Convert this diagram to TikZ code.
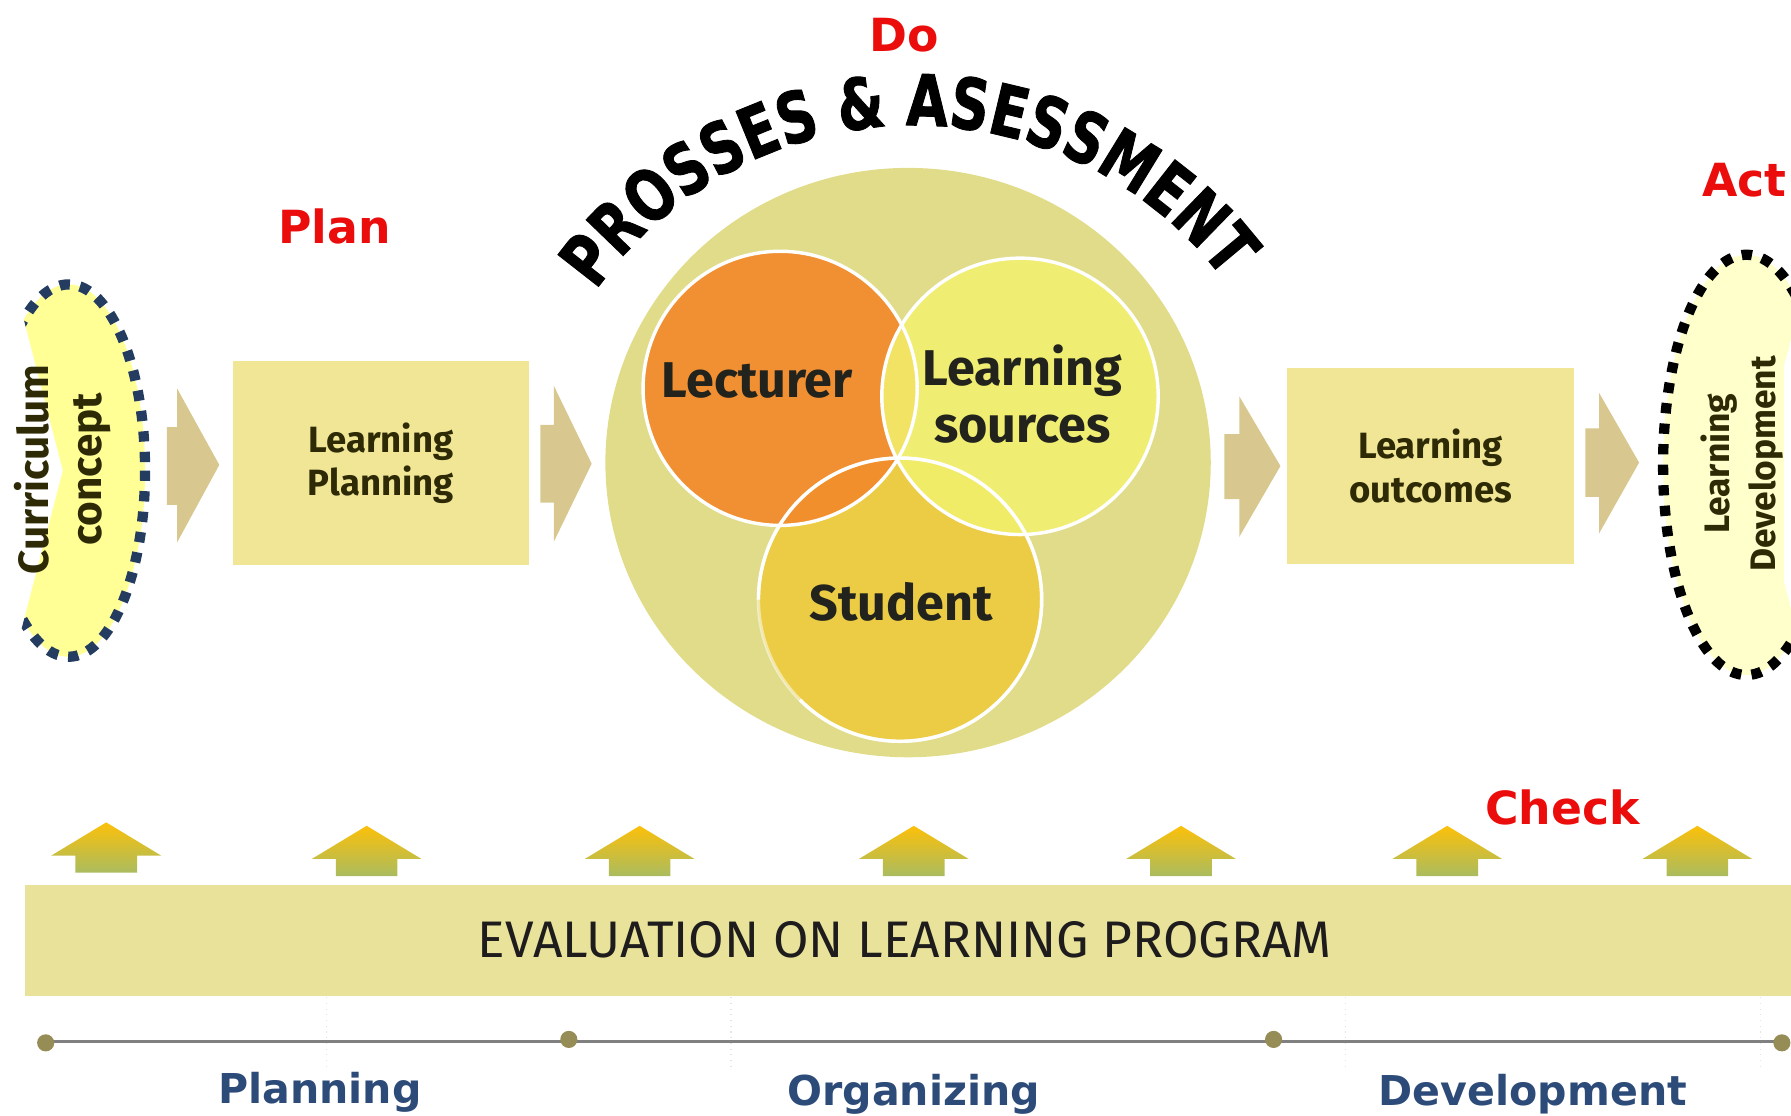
\documentclass[tikz,border=0pt]{standalone}
\usepackage{fontspec}
\setmainfont{Fira Sans}
\newfontfamily\labelfont{DejaVu Sans}
\newfontfamily\arcfont[FakeStretch=0.76,FakeBold=1.2]{DejaVu Sans}
\usetikzlibrary{decorations.text}

\definecolor{pdcared}{RGB}{235,12,12}
\definecolor{boxfill}{RGB}{240,230,150}
\definecolor{chevfill}{RGB}{216,200,144}
\definecolor{barfill}{RGB}{232,226,154}
\definecolor{bigfill}{RGB}{224,220,138}
\definecolor{lectfill}{RGB}{242,138,44}
\definecolor{srcfill}{RGB}{243,242,110}
\definecolor{studfill}{RGB}{236,204,68}
\definecolor{conceptfill}{RGB}{255,255,150}
\definecolor{conceptdot}{RGB}{35,60,95}
\definecolor{devfill}{RGB}{255,255,204}
\definecolor{textdark}{RGB}{45,42,5}
\definecolor{venndark}{RGB}{35,35,30}
\definecolor{timegray}{RGB}{128,128,128}
\definecolor{timedot}{RGB}{150,140,85}
\definecolor{phaseblue}{RGB}{45,75,120}
\definecolor{arrowtop}{RGB}{252,192,10}
\definecolor{arrowbot}{RGB}{170,188,95}

\tikzset{every picture/.style={line width=0.75pt}}
\tikzset{
  pdca/.style={text=pdcared, font=\labelfont\bfseries\fontsize{20}{24}\selectfont, inner sep=0pt, anchor=base},
  phase/.style={text=phaseblue, font=\labelfont\bfseries\fontsize{18}{22}\selectfont, inner sep=0pt, anchor=base},
  stepbox/.style={fill=boxfill, inner sep=0pt, text=textdark, align=center, font=\bfseries\fontsize{16}{19}\selectfont},
  venntext/.style={text=venndark, inner sep=0pt, align=center, font=\bfseries\fontsize{22}{25}\selectfont},
  sidetext/.style={text=textdark, inner sep=0pt, align=center, rotate=90},
  vennring/.style={draw=white, line width=1.5pt},
  chev/.style={fill=chevfill},
  upshade/.style={top color=arrowtop, bottom color=arrowbot},
  tdot/.style={circle, fill=timedot, inner sep=0pt, minimum size=7.5pt},
  faint/.style={draw={rgb,255:red,228;green,228;blue,228}, dotted, line width=0.5pt}
}

\begin{document}
\begin{tikzpicture}[x=0.5pt,y=0.5pt,yscale=-1,xscale=1]
\useasboundingbox (0,0) rectangle (1568,977);

% PDCA labels
\node[pdca] (do) at (792,45) {Do};
\node[pdca] (plan) at (293,213) {Plan};
\node[pdca] (act) at (1527,172) {Act};
\node[pdca] (check) at (1368,722) {Check};

% curriculum concept
\begin{scope}
\clip (8,230) -- (200,230) -- (200,600) -- (6,600) -- (55,412) -- cycle;
\fill[conceptfill] (60,412) ellipse (67 and 163);
\draw[conceptdot, line width=4.5pt, dash pattern=on 4.5pt off 4.5pt] (60,412) ellipse (67 and 163);
\end{scope}
\node[sidetext, font=\bfseries\fontsize{18.5}{23}\selectfont] (concept) at (55,411) {Curriculum\\concept};

% learning development
\begin{scope}
\clip (1300,150) -- (1570,150) -- (1570,290) -- (1562,320) -- (1562,510) -- (1570,540) -- (1570,660) -- (1300,660) -- cycle;
\fill[devfill] (1529,407) ellipse (73 and 184);
\draw[black, line width=4.5pt, dash pattern=on 4.5pt off 4.5pt] (1529,407) ellipse (73 and 184);
\end{scope}
\node[sidetext, font=\bfseries\fontsize{15.5}{20}\selectfont] (develop) at (1525,406) {Learning\\Development};

% boxes
\node[stepbox, minimum width=129.5pt, minimum height=89.5pt] (planbox) at (333.5,405.5) {Learning\\Planning};
\node[stepbox, minimum width=125.5pt, minimum height=86pt] (outbox) at (1252.5,408) {Learning\\outcomes};

% chevrons
\fill[chev] (146,374) -- (155,374) -- (155,340) -- (192,407) -- (155,475) -- (155,442) -- (146,442) -- cycle;
\fill[chev] (473,372) -- (485,372) -- (485,338) -- (518,406) -- (485,474) -- (485,440) -- (473,440) -- cycle;
\fill[chev] (1072,380) -- (1085,380) -- (1085,347) -- (1121,408) -- (1085,470) -- (1085,437) -- (1072,437) -- cycle;
\fill[chev] (1388,375) -- (1400,375) -- (1400,344) -- (1435,405) -- (1400,467) -- (1400,435) -- (1388,435) -- cycle;

% process circle
\fill[bigfill] (795,405) ellipse (265 and 258);
\fill[studfill] (788,525) circle (124);
\fill[lectfill, fill opacity=0.92] (683,340) circle (120);
\fill[srcfill, fill opacity=0.85] (893,347) circle (121);
\draw[vennring, draw opacity=0.5] (788,525) circle (124);
\draw[vennring] (683,340) circle (120);
\draw[vennring] (893,347) circle (121);
\draw[vennring] (788,525) ++(135:124) arc (135:-180:124);

\node[venntext, anchor=base] (lecturer) at (663,348) {Lecturer};
\node[venntext] (sources) at (895,345) {Learning\\sources};
\node[venntext, anchor=base] (student) at (789,543) {Student};

\begin{scope}[yscale=-1]
\path[decorate, decoration={text along path, text align=center,
  text={|\arcfont\bfseries\fontsize{31}{31}\selectfont|PROSSES {\&} ASESSMENT}}]
  (800,-450) ++(162:340) arc (162:20:340);
\end{scope}

% check arrows
\shade[upshade] (66,764) -- (66,749) -- (45,749) -- (93,720) -- (141,749) -- (120,749) -- (120,764) -- cycle;
\shade[upshade] (294,767) -- (294,752) -- (273,752) -- (321,723) -- (369,752) -- (348,752) -- (348,767) -- cycle;
\shade[upshade] (533,767) -- (533,752) -- (512,752) -- (560,723) -- (608,752) -- (587,752) -- (587,767) -- cycle;
\shade[upshade] (773,767) -- (773,752) -- (752,752) -- (800,723) -- (848,752) -- (827,752) -- (827,767) -- cycle;
\shade[upshade] (1007,767) -- (1007,752) -- (986,752) -- (1034,723) -- (1082,752) -- (1061,752) -- (1061,767) -- cycle;
\shade[upshade] (1240,767) -- (1240,752) -- (1219,752) -- (1267,723) -- (1315,752) -- (1294,752) -- (1294,767) -- cycle;
\shade[upshade] (1459,767) -- (1459,752) -- (1438,752) -- (1486,723) -- (1534,752) -- (1513,752) -- (1513,767) -- cycle;

% evaluation bar
\node[fill=barfill, inner sep=0pt, minimum width=774pt, minimum height=48.5pt] (evalbar) at (796,823.5) {};
\node[text={rgb,255:red,30;green,28;blue,28}, inner sep=0pt, anchor=base, font=\fontsize{22.5}{26}\selectfont] (evaltext) at (792,838) {EVALUATION ON LEARNING PROGRAM};

% timeline
\draw[faint] (286,873) -- (286,935);
\draw[faint] (640,873) -- (640,935);
\draw[faint] (1178,873) -- (1178,935);
\draw[faint] (1541,873) -- (1541,935);
\coordinate (t1) at (40,912);
\coordinate (t4) at (1560,912);
\draw[timegray, line width=1.5pt] (t1) -- (t4);
\node[tdot] (d1) at (40,913) {};
\node[tdot] (d2) at (498,910) {};
\node[tdot] (d3) at (1115,910) {};
\node[tdot] (d4) at (1560,913) {};

\node[phase] (planning) at (280,966) {Planning};
\node[phase] (organizing) at (800,968) {Organizing};
\node[phase] (development) at (1342,968) {Development};

\end{tikzpicture}
\end{document}
